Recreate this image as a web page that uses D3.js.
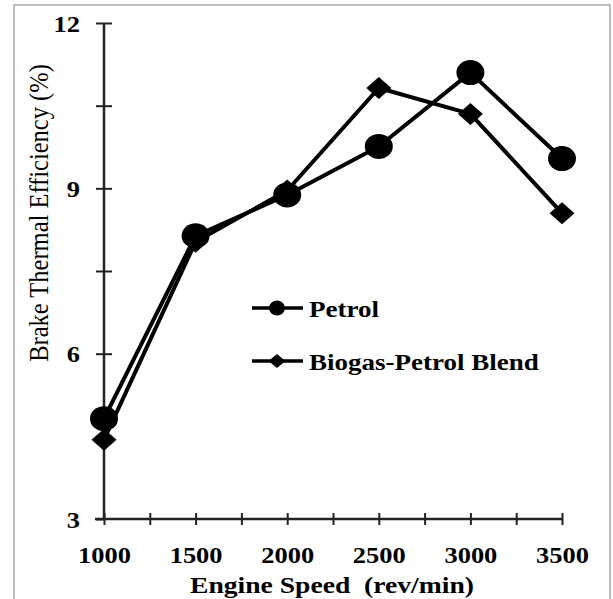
<!DOCTYPE html>
<html>
<head>
<meta charset="utf-8">
<script src="https://cdn.jsdelivr.net/npm/d3@7"></script>
<style>
  html, body { margin: 0; padding: 0; background: #fff; }
  svg { display: block; }
  text { font-family: "Liberation Serif", "Times New Roman", serif; fill: #000; }
</style>
</head>
<body>
<svg id="chart" width="613" height="599"></svg>
<script>
// ---- data ----
const speeds = [1000, 1500, 2000, 2500, 3000, 3500];
const petrol = [4.82, 8.14, 8.88, 9.76, 11.1, 9.54];
const blend = [4.44, 8.03, 8.96, 10.82, 10.35, 8.55];
const seriesNames = ["Petrol", "Biogas-Petrol Blend"];
const xTicks = [1000, 1250, 1500, 1750, 2000, 2250, 2500, 2750, 3000, 3250, 3500];
const xTickLabels = [1000, 1500, 2000, 2500, 3000, 3500];
const yTicks = [3, 4.5, 6, 7.5, 9, 10.5, 12];
const yTickLabels = [3, 6, 9, 12];
const xTitle = "Engine Speed  (rev/min)";
const yTitle = "Brake Thermal Efficiency (%)";

// ---- layout ----
const SX = 1.15; // horizontal stretch of the original picture's text
const svg = d3.select("#chart");
const x = d3.scaleLinear().domain([1000, 3500]).range([104, 562]);
const y = d3.scaleLinear().domain([3, 12]).range([519, 23]);

// outer frame
svg.append("rect").attr("x", 14).attr("y", 5).attr("width", 596).attr("height", 600)
  .attr("fill", "none").attr("stroke", "#a8a8a8").attr("stroke-width", 1.5);

// x axis
const gx = svg.append("g").attr("transform", `translate(0,${y(3)})`)
  .call(d3.axisBottom(x).tickValues(xTicks).tickSize(6).tickSizeOuter(0)
    .tickFormat(d => xTickLabels.includes(d) ? String(d) : ""));
gx.select(".domain").attr("stroke", "#222").attr("stroke-width", 2.5)
  .attr("d", `M${x(1000) - 9},0H${x(3500)}`);
gx.selectAll(".tick line").attr("y1", -6).attr("y2", 6).attr("stroke", "#222").attr("stroke-width", 2);
gx.selectAll(".tick text").attr("y", 28).attr("dy", "0.71em")
  .attr("transform", `scale(${SX},1)`)
  .style("font-size", "23px").style("font-weight", "bold").attr("fill", "#000");

// y axis
const gy = svg.append("g").attr("transform", `translate(${x(1000)},0)`)
  .call(d3.axisLeft(y).tickValues(yTicks).tickSize(8).tickSizeOuter(0)
    .tickFormat(d => yTickLabels.includes(d) ? String(d) : ""));
gy.select(".domain").attr("stroke", "#222").attr("stroke-width", 2.5)
  .attr("d", `M0,${y(3)}V${y(12)}`);
gy.selectAll(".tick line").attr("x1", -8).attr("x2", 8).attr("stroke", "#222").attr("stroke-width", 2);
gy.selectAll(".tick text").attr("x", -24 / SX).attr("dy", "0.36em")
  .attr("transform", `scale(${SX},1)`)
  .style("font-size", "23px").style("font-weight", "bold").attr("fill", "#000");
gy.selectAll(".tick").filter(d => d === 3).select("line").attr("x2", 0);

// axis titles
svg.append("text").attr("transform", `translate(332,593) scale(${SX},1)`)
  .attr("text-anchor", "middle").style("font-size", "24px").style("font-weight", "bold")
  .style("white-space", "pre").attr("xml:space", "preserve").text(xTitle);
svg.append("text").attr("transform", `translate(48,213) scale(${SX},1) rotate(-90)`)
  .attr("text-anchor", "middle").style("font-size", "24.5px").text(yTitle);

// lines
const line = d3.line().x(d => x(d[0])).y(d => y(d[1]));
const petrolPts = speeds.map((s, i) => [s, petrol[i]]);
const blendPts = speeds.map((s, i) => [s, blend[i]]);

svg.append("path").datum(petrolPts).attr("d", line)
  .attr("fill", "none").attr("stroke", "#000").attr("stroke-width", 4).attr("stroke-linejoin", "round");
svg.append("path").datum(blendPts).attr("d", line)
  .attr("fill", "none").attr("stroke", "#000").attr("stroke-width", 4).attr("stroke-linejoin", "round");

// markers
const diamond = (cx, cy, hw, hh) => `M${cx},${cy - hh}L${cx + hw},${cy}L${cx},${cy + hh}L${cx - hw},${cy}Z`;
svg.append("g").selectAll("path").data(blendPts).join("path")
  .attr("d", d => diamond(x(d[0]), y(d[1]), 12.5, 11)).attr("fill", "#000");
svg.append("g").selectAll("ellipse").data(petrolPts).join("ellipse")
  .attr("cx", d => x(d[0])).attr("cy", d => y(d[1])).attr("rx", 14).attr("ry", 12.5).attr("fill", "#000");

// legend
const legY = [308, 361];
const leg = svg.append("g");
seriesNames.forEach((name, i) => {
  leg.append("line").attr("x1", 252).attr("x2", 303).attr("y1", legY[i]).attr("y2", legY[i])
    .attr("stroke", "#000").attr("stroke-width", 3.5);
  if (i === 0) {
    leg.append("ellipse").attr("cx", 277).attr("cy", legY[i]).attr("rx", 8).attr("ry", 7.5).attr("fill", "#000");
  } else {
    leg.append("path").attr("d", diamond(277, legY[i], 8.5, 7)).attr("fill", "#000");
  }
  leg.append("text").attr("transform", `translate(309,${legY[i] + 9}) scale(${SX},1)`)
    .style("font-size", "23.5px").style("font-weight", "bold").text(name);
});
</script>
</body>
</html>
